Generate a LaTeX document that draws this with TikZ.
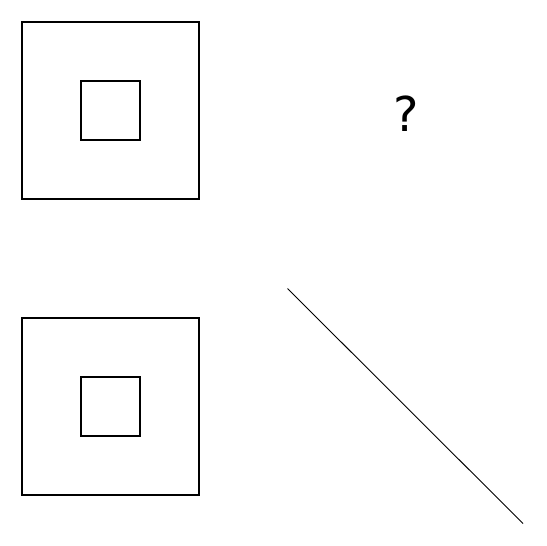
\documentclass[tikz,border=0pt]{standalone}
\usepackage{fontspec}
\newfontfamily\qfont{DejaVu Sans}
\usepackage{tikz}
\usetikzlibrary{positioning}
\tikzset{
  outerbox/.style={
    draw=black,
    line width=1.3pt,
    minimum size=177pt,
    inner sep=0pt
  },
  innerbox/.style={
    draw=black,
    line width=1.3pt,
    minimum size=59pt,
    inner sep=0pt
  },
  diagline/.style={line width=0.9pt}
}
\begin{document}
\begin{tikzpicture}[x=1pt,y=-1pt]
  \useasboundingbox (0,0) rectangle (546,546);
  % top pair
  \node[outerbox] (topouter) at (110.5,110.5) {};
  \node[innerbox] (topinner) at (topouter.center) {};
  \node[font=\qfont\fontsize{48}{52}\selectfont] (query) at (406,114) {?};
  % bottom pair
  \node[outerbox] (botouter) at (110.5,406.5) {};
  \node[innerbox] (botinner) at (botouter.center) {};
  \coordinate (linestart) at (287.5,288.5);
  \coordinate (lineend) at (523,523.5);
  \draw[diagline] (linestart) -- (lineend);
\end{tikzpicture}
\end{document}
